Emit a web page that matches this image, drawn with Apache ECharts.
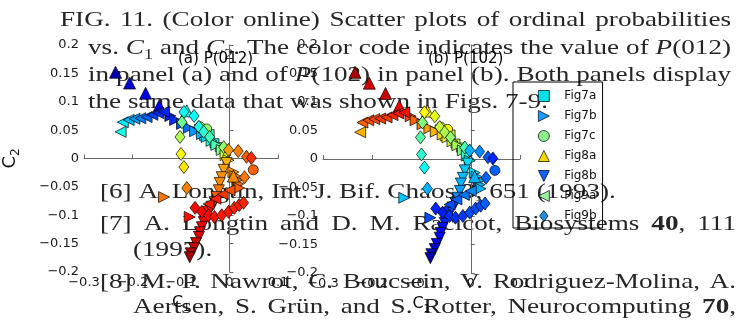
<!DOCTYPE html>
<html>
<head>
<meta charset="utf-8">
<script src="https://cdn.jsdelivr.net/npm/echarts@6/dist/echarts.min.js"></script>
<style>
  html, body { margin: 0; padding: 0; background: #fff; }
  #chart { width: 740px; height: 320px; }
</style>
</head>
<body>
<div id="chart"></div>
<script>
// ---- data: each point is [C1, C2, P(012), P(102)] ----
const fig7a = [
  [-0.063, 0.052, 0.40, 0.62], [-0.053, 0.040, 0.38, 0.62], [-0.041, 0.043, 0.45, 0.58],
  [-0.031, 0.027, 0.42, 0.58], [-0.020, 0.020, 0.46, 0.55]
];
const fig7b = [
  [-0.122, 0.075, 0.15, 0.80], [-0.112, 0.068, 0.17, 0.78], [-0.098, 0.061, 0.20, 0.75],
  [-0.084, 0.054, 0.23, 0.72], [-0.071, 0.048, 0.27, 0.70], [-0.057, 0.043, 0.30, 0.66],
  [-0.047, 0.038, 0.34, 0.62], [-0.037, 0.031, 0.40, 0.58], [-0.027, 0.024, 0.45, 0.54],
  [-0.016, 0.015, 0.50, 0.50], [-0.008, 0.006, 0.58, 0.42], [-0.002, -0.003, 0.63, 0.38],
  [-0.135, -0.068, 0.76, 0.32], [-0.082, -0.103, 0.86, 0.20],
  [0.008, -0.024, 0.72, 0.35], [0.012, -0.031, 0.73, 0.33], [0.016, -0.038, 0.75, 0.32],
  [0.018, -0.045, 0.76, 0.31], [0.020, -0.052, 0.78, 0.30]
];
const fig7c = [
  [-0.061, 0.056, 0.55, 0.60], [-0.047, 0.052, 0.52, 0.62], [0.049, -0.020, 0.78, 0.22]
];
const fig8a = [
  [-0.235, 0.152, 0.04, 0.96], [-0.206, 0.133, 0.07, 0.92], [-0.173, 0.115, 0.09, 0.93],
  [-0.145, 0.093, 0.12, 0.88], [-0.088, 0.084, 0.40, 0.63], [0.008, -0.031, 0.74, 0.30]
];
const fig8b = [
  [-0.006, -0.008, 0.70, 0.34], [-0.012, -0.020, 0.72, 0.32], [-0.016, -0.033, 0.73, 0.31],
  [-0.020, -0.043, 0.74, 0.30], [-0.022, -0.056, 0.76, 0.28], [-0.027, -0.068, 0.78, 0.26],
  [-0.031, -0.077, 0.80, 0.24], [-0.037, -0.085, 0.82, 0.22], [-0.043, -0.094, 0.85, 0.20],
  [-0.049, -0.103, 0.87, 0.18], [-0.053, -0.112, 0.88, 0.16], [-0.057, -0.121, 0.89, 0.14],
  [-0.061, -0.130, 0.90, 0.12], [-0.063, -0.138, 0.91, 0.11], [-0.069, -0.149, 0.92, 0.09],
  [-0.073, -0.158, 0.93, 0.07], [-0.080, -0.167, 0.95, 0.05], [-0.082, -0.174, 0.97, 0.03]
];
const fig9a = [
  [-0.2245, 0.047, 0.40, 0.70], [-0.220, 0.064, 0.36, 0.78], [-0.208, 0.068, 0.31, 0.80],
  [-0.196, 0.070, 0.28, 0.80], [-0.184, 0.071, 0.25, 0.82], [-0.171, 0.073, 0.22, 0.82],
  [-0.159, 0.077, 0.19, 0.84], [-0.147, 0.080, 0.17, 0.85], [-0.135, 0.082, 0.16, 0.86],
  [-0.057, -0.091, 0.86, 0.18], [-0.043, -0.080, 0.85, 0.20], [-0.029, -0.071, 0.84, 0.22],
  [-0.014, -0.063, 0.82, 0.24], [0.000, -0.056, 0.80, 0.26]
];
const fig9b = [
  [-0.094, 0.082, 0.38, 0.63], [-0.098, 0.064, 0.48, 0.50], [-0.102, 0.038, 0.55, 0.46],
  [-0.100, 0.008, 0.62, 0.42], [-0.094, -0.015, 0.65, 0.38], [-0.088, -0.052, 0.75, 0.30],
  [-0.073, 0.075, 0.38, 0.60], [-0.063, 0.056, 0.40, 0.57], [-0.053, 0.047, 0.42, 0.55],
  [-0.041, 0.038, 0.44, 0.52], [-0.012, 0.020, 0.52, 0.45], [-0.002, 0.015, 0.72, 0.30],
  [0.018, 0.013, 0.75, 0.26], [0.035, 0.003, 0.78, 0.21], [0.045, 0.001, 0.83, 0.16],
  [0.031, -0.033, 0.76, 0.22],
  [-0.071, -0.087, 0.87, 0.16], [-0.057, -0.094, 0.88, 0.15], [-0.043, -0.100, 0.87, 0.17],
  [-0.031, -0.103, 0.86, 0.17], [-0.016, -0.100, 0.85, 0.18], [-0.002, -0.094, 0.85, 0.20],
  [0.010, -0.087, 0.84, 0.20], [0.020, -0.082, 0.85, 0.20], [0.029, -0.078, 0.84, 0.22]
];

const seriesNames = ['Fig7a', 'Fig7b', 'Fig7c', 'Fig8a', 'Fig8b', 'Fig9a', 'Fig9b'];
const seriesData = [fig7a, fig7b, fig7c, fig8a, fig8b, fig9a, fig9b];
const panelTitles = ['(a) P(012)', '(b) P(102)'];

// caption and reference text printed around the figure
const textLines = [
  'FIG. 11. (Color online) Scatter plots of ordinal probabilities',
  'vs. {i:C}{s:1} and {i:C}{s:2}. The color code indicates the value of {i:P}(012)',
  'in panel (a) and of {i:P}(102) in panel (b). Both panels display',
  'the same data that was shown in Figs. 7-9.',
  '[6] A. Longtin, Int. J. Bif. Chaos {b:3}, 651 (1993).',
  '[7] A. Longtin and D. M. Racicot, Biosystems {b:40}, 111',
  '(1997).',
  '[8] M. P. Nawrot, C. Boucsein, V. Rodriguez-Molina, A.',
  'Aertsen, S. Gr\u00fcn, and S. Rotter, Neurocomputing {b:70},'
];
// [left, right (null = ragged), baseline]
const textLayout = [
  [60, 731, 28], [88, 731, 56], [88, 731, 83], [88, null, 110],
  [100, null, 200], [100, 736, 232], [133, null, 258], [100, 736, 290], [133, 736, 315]
];

// ---- styling ----
const jet = ['#00008f', '#0000ff', '#0080ff', '#00ffff', '#80ff80', '#ffff00', '#ff8000', '#ff0000', '#800000'];
const symbols = {
  Fig7a: 'path://M0,0L10,0L10,10L0,10Z',
  Fig7b: 'path://M0,0L10,5L0,10Z',
  Fig7c: 'circle',
  Fig8a: 'path://M5,0L10,10L0,10Z',
  Fig8b: 'path://M0,0L10,0L5,10Z',
  Fig9a: 'path://M10,0L0,5L10,10Z',
  Fig9b: 'path://M5,0L10,6.5L5,13L0,6.5Z'
};
const symbolSizes = { Fig7a: 9, Fig7b: 11, Fig7c: 10, Fig8a: 12, Fig8b: 11, Fig9a: 11, Fig9b: [10, 13] };
const legendColors = {
  Fig7a: '#00e0e8', Fig7b: '#1e9bff', Fig7c: '#8cf08c', Fig8a: '#f5d800',
  Fig8b: '#1060ff', Fig9a: '#9cf09c', Fig9b: '#1e90e0'
};

const SANS = 'DejaVu Sans';
const SERIF = 'Liberation Serif';
const axisGray = '#6a6a6a';

function tickFmt(v) {
  const r = Math.round(v * 1000) / 1000;
  if (r === 0) return '0';
  return (r < 0 ? '\u2212' : '') + String(Math.abs(r));
}

function makeX(gridIndex, withName) {
  return {
    type: 'value', gridIndex, min: -0.3, max: 0.1, interval: 0.1,
    name: withName ? '{c|C}{s|1}' : '', nameLocation: 'middle', nameGap: 19,
    nameTextStyle: { rich: {
      c: { fontFamily: SANS, fontSize: 16, color: '#111' },
      s: { fontFamily: SANS, fontSize: 11, color: '#111', padding: [12, 0, 0, 0] }
    } },
    axisLine: { show: true, lineStyle: { color: axisGray, width: 1 } },
    axisTick: { show: true, inside: true, length: 4, lineStyle: { color: axisGray } },
    splitLine: { show: false },
    axisLabel: { formatter: tickFmt, margin: 4, fontFamily: SANS, fontSize: 13, color: '#1a1a1a' }
  };
}
function makeY(gridIndex, withName) {
  return {
    type: 'value', gridIndex, min: -0.2, max: 0.2, interval: 0.05,
    name: withName ? '{c|C}{s|2}' : '', nameLocation: 'middle', nameGap: 62, nameRotate: 90,
    nameTextStyle: { rich: {
      c: { fontFamily: SANS, fontSize: 18, color: '#111' },
      s: { fontFamily: SANS, fontSize: 12, color: '#111', padding: [12, 0, 0, 0] }
    } },
    axisLine: { show: true, lineStyle: { color: axisGray, width: 1 } },
    axisTick: { show: true, inside: true, length: 4, lineStyle: { color: axisGray } },
    splitLine: { show: false },
    axisLabel: { formatter: tickFmt, margin: 5, fontFamily: SANS, fontSize: 13, color: '#1a1a1a' }
  };
}

const series = [];
[0, 1].forEach(function (panel) {
  seriesNames.forEach(function (name, k) {
    series.push({
      type: 'scatter', name: name, xAxisIndex: panel, yAxisIndex: panel,
      data: seriesData[k],
      symbol: symbols[name], symbolSize: symbolSizes[name],
      itemStyle: { borderColor: '#000', borderWidth: 0.7, opacity: 1 },
      emphasis: { disabled: true },
      z: 3 + k
    });
  });
});

// ---- justified text built from measured word widths ----
const BASE_SIZE = 21, SUB_SIZE = 14;
const ctx = document.createElement('canvas').getContext('2d');
function fontOf(kind) {
  const size = kind === 's' ? SUB_SIZE : BASE_SIZE;
  return (kind === 'i' ? 'italic ' : '') + (kind === 'b' ? 'bold ' : '') + size + 'px "' + SERIF + '"';
}
function measure(t, kind) { ctx.font = fontOf(kind); return ctx.measureText(t).width; }
function parseWord(word) {
  const out = [];
  const re = /\{(\w):([^}]*)\}|([^{]+)/g;
  let m;
  while ((m = re.exec(word))) {
    if (m[1]) out.push([m[2], m[1]]); else out.push([m[3], 'n']);
  }
  return out;
}
const words = textLines.map(function (l) { return l.split(' ').map(parseWord); });
function wordWidth(w) { return w.reduce(function (a, t) { return a + measure(t[0], t[1]); }, 0); }
// horizontal stretch chosen so the ragged caption line spans its printed width
const line4Natural = words[3].reduce(function (a, w) { return a + wordWidth(w); }, 0) + measure(' ', 'n') * (words[3].length - 1);
const SX = 460 / line4Natural;

const graphics = [];
words.forEach(function (ws, li) {
  const lay = textLayout[li];
  const widths = ws.map(function (w) { return wordWidth(w) * SX; });
  const total = widths.reduce(function (a, b) { return a + b; }, 0);
  const gap = lay[1] === null ? measure(' ', 'n') * SX : (lay[1] - lay[0] - total) / (ws.length - 1);
  let x = lay[0];
  ws.forEach(function (w, wi) {
    let tx = x;
    w.forEach(function (tok) {
      const size = tok[1] === 's' ? SUB_SIZE : BASE_SIZE;
      const yOff = tok[1] === 's' ? 4 : 0;
      graphics.push({
        type: 'text', x: tx, y: lay[2] + yOff - 0.34 * size, scaleX: SX, z: -10, silent: true,
        style: { x: 0, y: 0, text: tok[0], font: fontOf(tok[1]), fill: '#262626',
                 align: 'left', verticalAlign: 'middle' }
      });
      tx += measure(tok[0], tok[1]) * SX;
    });
    x += widths[wi] + gap;
  });
});

const chart = echarts.init(document.getElementById('chart'), null, { renderer: 'canvas' });
chart.setOption({
  animation: false,
  backgroundColor: '#fff',
  title: [
    { text: panelTitles[0], left: 178, top: 52, padding: 0,
      textStyle: { fontFamily: SANS, fontSize: 15, fontWeight: 'normal', color: '#000' } },
    { text: panelTitles[1], left: 428, top: 52, padding: 0,
      textStyle: { fontFamily: SANS, fontSize: 15, fontWeight: 'normal', color: '#000' } }
  ],
  grid: [
    { left: 81, top: 45, width: 197, height: 227 },
    { left: 323, top: 45, width: 197, height: 228 }
  ],
  xAxis: [makeX(0, true), makeX(1, true)],
  yAxis: [makeY(0, true), makeY(1, false)],
  visualMap: [
    { type: 'continuous', show: false, min: 0, max: 1, dimension: 2,
      seriesIndex: [0, 1, 2, 3, 4, 5, 6], inRange: { color: jet } },
    { type: 'continuous', show: false, min: 0, max: 1, dimension: 3,
      seriesIndex: [7, 8, 9, 10, 11, 12, 13], inRange: { color: jet } }
  ],
  legend: {
    orient: 'vertical', left: 513, top: 82, padding: [8, 6, 6, 25],
    itemWidth: 11, itemHeight: 11, itemGap: 8, selectedMode: false,
    borderColor: '#000', borderWidth: 1, backgroundColor: 'transparent',
    textStyle: { fontFamily: SANS, fontSize: 12, color: '#111', padding: [0, 0, 0, 10] },
    data: seriesNames.map(function (n) {
      return { name: n, icon: symbols[n],
               itemStyle: { color: legendColors[n], borderColor: '#000', borderWidth: 0.7 } };
    })
  },
  graphic: graphics,
  series: series
});
</script>
</body>
</html>
